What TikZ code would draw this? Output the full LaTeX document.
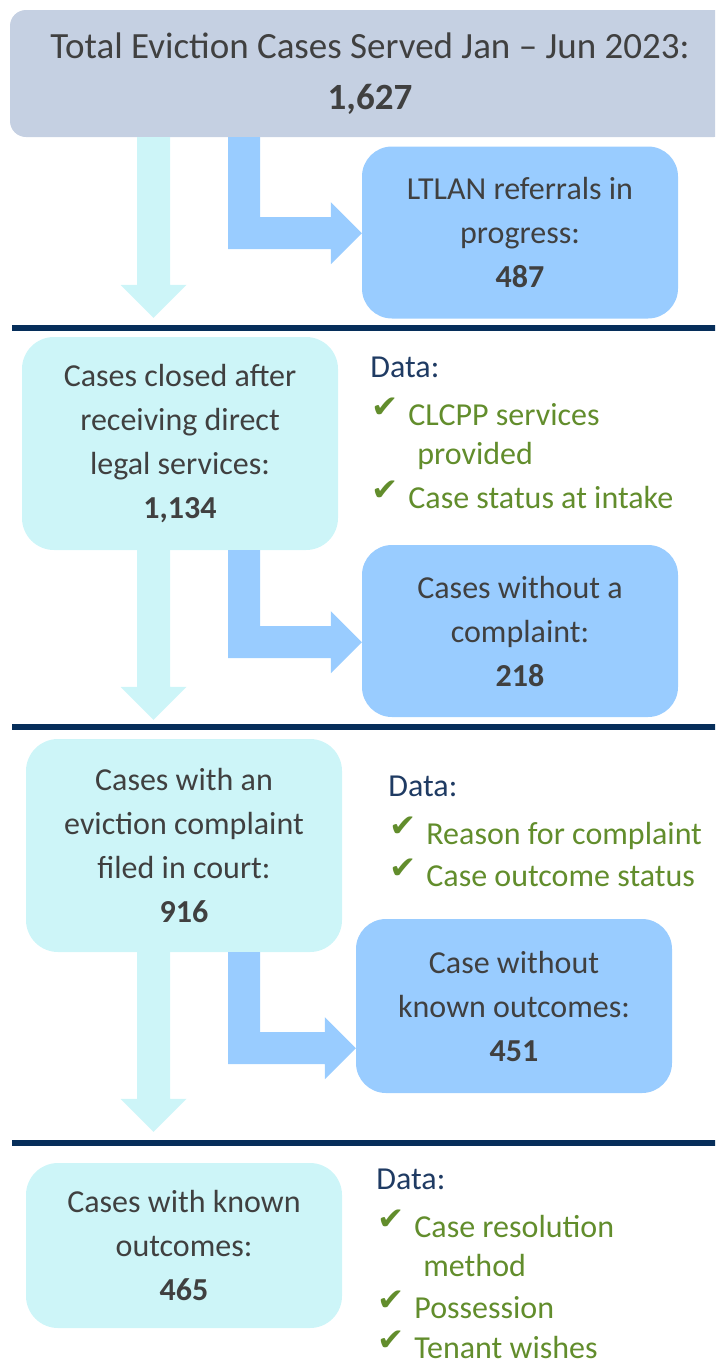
\documentclass[tikz,border=0pt]{standalone}
\usepackage{fontspec}
\setmainfont{Carlito}
\newfontfamily\tickfont{DejaVu Sans}
\usetikzlibrary{calc,positioning}
\definecolor{topgrey}{HTML}{C5D0E2}
\definecolor{cyanfill}{HTML}{CDF5F8}
\definecolor{bluefill}{HTML}{99CCFF}
\definecolor{textgrey}{HTML}{404040}
\definecolor{datanavy}{HTML}{1F3B63}
\definecolor{sepnavy}{HTML}{062E5A}
\definecolor{tickgreen}{HTML}{628D2C}
\newcommand{\tick}{\makebox[38pt][l]{\hspace*{1pt}\raisebox{8pt}{\scalebox{1.05}[1]{\tickfont\fontsize{31}{31}\selectfont\color{tickgreen}✔}}}}
\newcommand{\wrapind}{\hspace*{47pt}}
\tikzset{
    x=1pt, y=-1pt,
    %node distance=3cm,
    box/.style={rectangle,rounded corners=32pt,inner sep=0pt,align=center,text=textgrey,
        font=\fontsize{32}{44}\selectfont,minimum width=316pt},
    top box/.style={rectangle,rounded corners=16pt,fill=topgrey,inner sep=0pt,align=center,
        text=textgrey,font=\fontsize{37}{51}\selectfont,minimum width=720pt,minimum height=127pt},
    cyan box/.style={box,fill=cyanfill},
    blue box/.style={box,fill=bluefill,rounded corners=30pt,minimum height=172pt},
    data note/.style={align=left,inner sep=0pt,text=tickgreen,font=\fontsize{32}{39}\selectfont},
    down flow/.style={fill=cyanfill},
    side flow/.style={fill=bluefill},
    sep line/.style={draw=sepnavy,line width=6pt}
}
\begin{document}
\begin{tikzpicture}
    \useasboundingbox (0,0) rectangle (715,1363);
    \clip (0,0) rectangle (715,1363);
    \coordinate (col1) at (153.5,0);
    \coordinate (col2) at (228,0);
    % boxes
    \node[top box] (total) at (370,73.5) {Total Eviction Cases Served Jan – Jun 2023:\\\textbf{1,627}};
    \node[blue box] (ltlan) at (520,232.5) {LTLAN referrals in\\progress:\\\textbf{487}};
    \node[cyan box, minimum height=213pt] (closed) at (180,443.5) {Cases closed after\\receiving direct\\legal services:\\\textbf{1,134}};
    \node[blue box] (nocomplaint) at (520,631) {Cases without a\\complaint:\\\textbf{218}};
    \node[cyan box, minimum height=213pt] (filed) at (184,845.5) {Cases with an\\eviction complaint\\filed in court:\\\textbf{916}};
    \node[blue box, minimum height=174pt] (unknown) at (514,1006) {Case without\\known outcomes:\\\textbf{451}};
    \node[cyan box, minimum height=165pt] (known) at (184,1245.5) {Cases with known\\outcomes:\\\textbf{465}};
    % data notes
    \node[data note] (data1) [below right = 20pt and 32pt of closed.north east]
        {\textcolor{datanavy}{Data:}\\[9pt]\tick CLCPP services\\\wrapind provided\\[5pt]\tick Case status at intake};
    \node[data note] (data2) [below right = 37pt and 46pt of filed.north east]
        {\textcolor{datanavy}{Data:}\\[9pt]\tick Reason for complaint\\[3pt]\tick Case outcome status};
    \node[data note] (data3) [below right = 6pt and 34pt of known.north east]
        {\textcolor{datanavy}{Data:}\\[9pt]\tick Case resolution\\\wrapind method\\[3pt]\tick Possession\\[1pt]\tick Tenant wishes};
    % separators
    \draw[sep line] (12,328) -- (720,328);
    \draw[sep line] (12,727) -- (720,727);
    \draw[sep line] (12,1143) -- (720,1143);
    % arrow tips
    \coordinate (t1) at ($(closed.north -| col1)+(0,-19)$);
    \coordinate (t2) at ($(filed.north -| col1)+(0,-19)$);
    \coordinate (t3) at ($(known.north -| col1)+(0,-31)$);
    \coordinate (e1) at ($(ltlan.west |- total.south)+(0,96)$);
    \coordinate (e2) at ($(nocomplaint.west |- closed.south)+(0,92)$);
    \coordinate (e3) at ($(unknown.west |- filed.south)+(0,96)$);
    % down arrows
    \fill[down flow] ($(total.south -| col1)+(-16.5,0)$) -- ++(33,0) |- ($(t1)+(33,-33)$) -- (t1) -- ++(-33,-33) -| ($(total.south -| col1)+(-16.5,0)$) -- cycle;
    \fill[down flow] ($(closed.south -| col1)+(-16.5,0)$) -- ++(33,0) |- ($(t2)+(33,-33)$) -- (t2) -- ++(-33,-33) -| ($(closed.south -| col1)+(-16.5,0)$) -- cycle;
    \fill[down flow] ($(filed.south -| col1)+(-16.5,0)$) -- ++(33,0) |- ($(t3)+(33,-33)$) -- (t3) -- ++(-33,-33) -| ($(filed.south -| col1)+(-16.5,0)$) -- cycle;
    % side arrows
    \fill[side flow] (total.south -| col2) -- ++(32,0) |- ($(e1)+(-31,-16)$) -- ++(0,-15) -- (e1) -- ++(-31,31) -- ++(0,-15) -| (total.south -| col2) -- cycle;
    \fill[side flow] (closed.south -| col2) -- ++(32,0) |- ($(e2)+(-31,-16)$) -- ++(0,-15) -- (e2) -- ++(-31,31) -- ++(0,-15) -| (closed.south -| col2) -- cycle;
    \fill[side flow] (filed.south -| col2) -- ++(32,0) |- ($(e3)+(-31,-16)$) -- ++(0,-15) -- (e3) -- ++(-31,31) -- ++(0,-15) -| (filed.south -| col2) -- cycle;
\end{tikzpicture}
\end{document}
